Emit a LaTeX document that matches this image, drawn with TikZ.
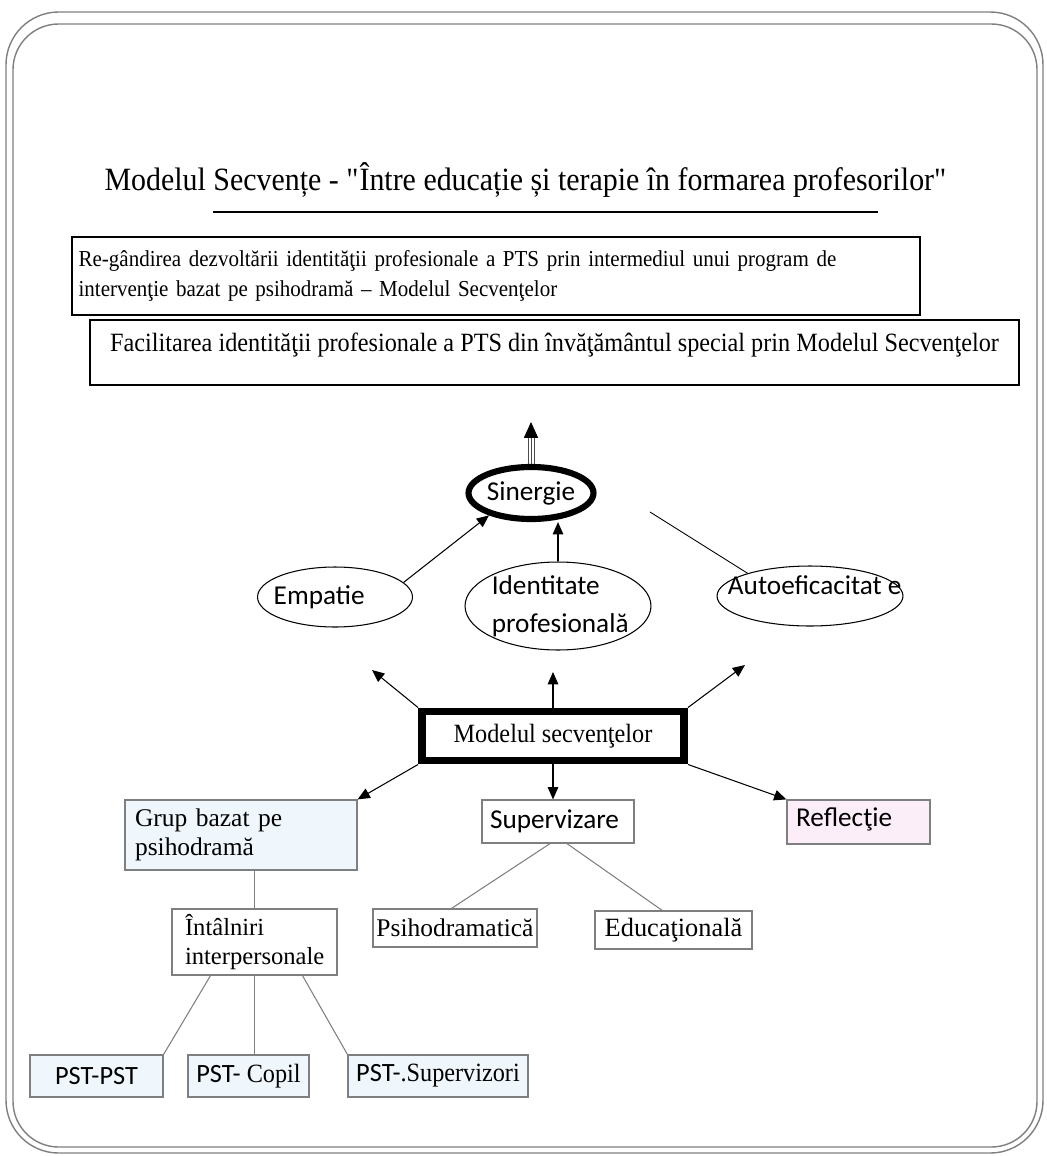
\documentclass[tikz,border=0pt]{standalone}
\usepackage{fontspec}
\setmainfont{Liberation Serif}
\newfontfamily\calibrifont{Carlito}
\newfontfamily\narrowserif{Liberation Serif}[FakeStretch=0.92]
\usetikzlibrary{shapes.geometric,arrows.meta,calc}

\definecolor{boxgray}{HTML}{7F7F7F}
\definecolor{paleblue}{HTML}{F0F7FC}
\definecolor{palepink}{HTML}{FCEEF8}

\tikzset{
  ovalnode/.style={draw, ellipse, inner sep=0pt, line width=0.6pt},
  ovaltext/.style={font=\calibrifont\fontsize{15.5}{21.5}\selectfont, align=left},
  graybox/.style={draw=boxgray, rectangle, inner sep=0pt, line width=0.7pt, font=\fontsize{14.5}{16.5}\selectfont},
  pstbox/.style={graybox, fill=paleblue, minimum height=0.84cm},
  arrowline/.style={-{Triangle[length=7pt,width=6pt]}, line width=0.6pt},
  plainline/.style={line width=0.6pt, draw=boxgray},
}

\begin{document}
\begin{tikzpicture}[x=0.02cm, y=-0.02cm]
\useasboundingbox (0,0) rectangle (1046,1156);

% double frame
\draw[boxgray, line width=0.8pt, rounded corners=30pt] (6,12) rectangle (1043,1153);
\draw[boxgray, line width=0.8pt, rounded corners=26pt] (13,24) rectangle (1037,1147);

% title
\node (title) at (526,180) {\narrowserif\fontsize{18.5}{20}\selectfont Modelul Secvențe - \textquotedbl Între educație și terapie în formarea profesorilor\textquotedbl};
\draw[line width=1.5pt] (213,212) -- (878,212);

% top boxes
\node[draw, line width=0.8pt, minimum width=16.96cm, minimum height=1.56cm, text width=16.7cm,
      align=left, inner sep=0pt, font=\narrowserif\fontsize{13}{17}\selectfont] (rethink) at (496,276)
  {Re-gândirea dezvoltării identităţii profesionale a PTS prin intermediul unui program de\\
   intervenţie bazat pe psihodramă – Modelul Secvenţelor};
\node[draw, line width=0.8pt, minimum width=18.58cm, minimum height=1.3cm, inner sep=0pt,
      label={[anchor=north, yshift=-4pt, font=\narrowserif\fontsize{15}{17}\selectfont]north:Facilitarea identităţii profesionale a PTS din învăţământul special prin Modelul Secvenţelor}]
  (facil) at (554.5,352.5) {};

% ellipses
\node[ovalnode, line width=3.5pt, minimum width=2.24cm, minimum height=1.04cm,
      font=\calibrifont\fontsize{15.5}{17}\selectfont] (sinergie) at (531,493) {Sinergie};
\node[ovalnode, minimum width=3.1cm, minimum height=1.2cm,
      label={[ovaltext, anchor=west, xshift=6pt]west:Empatie}] (empatie) at (335,597) {};
\node[ovalnode, minimum width=3.72cm, minimum height=1.76cm,
      label={[ovaltext, anchor=west, xshift=12pt]west:Identitate\\profesională}] (identitate) at (558,606) {};
\node[ovalnode, minimum width=3.72cm, minimum height=1.2cm,
      label={[ovaltext, anchor=west, xshift=3pt, yshift=6pt]west:Autoeficacitat e}] (autoef) at (810,596) {};

% central box
\node[draw, line width=4.5pt, minimum width=5.24cm, minimum height=0.98cm,
      font=\narrowserif\fontsize{15}{17}\selectfont] (model) at (553,736) {Modelul secvenţelor};

% second level
\node[graybox, fill=paleblue, minimum width=4.64cm, minimum height=1.4cm, text width=4.24cm,
      align=left] (grup) at (241,835) {Grup bazat pe\\psihodramă};
\node[graybox, minimum width=3.04cm, minimum height=0.86cm, text width=2.72cm, align=left,
      font=\calibrifont\fontsize{15.5}{17}\selectfont] (superv) at (558,821.5) {Supervizare};
\node[graybox, fill=palepink, minimum width=2.86cm, minimum height=0.88cm,
      label={[anchor=north west, xshift=2pt, yshift=-1pt, font=\calibrifont\fontsize{15.5}{17}\selectfont]north west:Reflecţie}]
  (reflectie) at (858.5,822) {};

% third level
\node[graybox, minimum width=3.3cm, minimum height=1.32cm, text width=2.78cm, align=left,
      font=\fontsize{14}{16.5}\selectfont] (intal) at (254.5,942) {Întâlniri\\interpersonale};
\node[graybox, minimum width=3.28cm, minimum height=0.76cm] (psiho) at (455,928) {Psihodramatică};
\node[graybox, minimum width=3.14cm, minimum height=0.76cm, font=\fontsize{15}{17}\selectfont] (edu) at (673.5,930) {Educaţională};

% bottom level
\node[pstbox, minimum width=2.66cm, font=\calibrifont\fontsize{15}{17}\selectfont] (pstpst) at (96.5,1076) {PST-PST};
\node[pstbox, minimum width=2.42cm, font=\narrowserif\fontsize{15}{17}\selectfont] (pstcopil) at (248.5,1076) {{\calibrifont PST-} Copil};
\node[pstbox, minimum width=3.6cm, font=\narrowserif\fontsize{15}{17}\selectfont] (pstsup) at (438,1076) {{\calibrifont PST-}.Supervizori};

% arrow to the top box
\coordinate (goal) at (531,422);
\foreach \dx in {-3,0,3}
  \draw[line width=0.5pt, black!70] ($(sinergie.north)+(\dx,0)$) -- ($(goal)+(\dx,14)$);
\draw[-{Triangle[length=9pt,width=8pt]}, line width=0.5pt] ($(goal)+(0,14)$) -- (goal);

% arrows into Sinergie
\draw[arrowline] (empatie.12) -- (sinergie.208);
\draw[arrowline] (identitate.north) -- (identitate.north |- sinergie.south);
\coordinate (sinright) at (650,512);
\draw[line width=0.5pt] (sinright) -- (autoef.160);

% arrows from the central box
\coordinate (tipEmp) at (372,670);
\coordinate (tipIde) at (553,672);
\coordinate (tipAut) at (745,665);
\draw[arrowline] (model.north west) -- (tipEmp);
\draw[arrowline] (model.north) -- (tipIde);
\draw[arrowline] (model.north east) -- (tipAut);
\draw[arrowline] (model.south west) -- (grup.north east);
\draw[arrowline] (model.south) -- (model.south |- superv.north);
\draw[arrowline] (model.south east) -- (reflectie.north west);

% tree lines
\draw[plainline] (intal.north |- grup.south) -- (intal.north);
\draw[plainline] ($(superv.south)+(-8,0)$) -- (psiho.100);
\draw[plainline] ($(superv.south)+(9,0)$) -- (edu.120);
\draw[plainline] ($(intal.south)+(-44,0)$) -- (pstpst.north east);
\draw[plainline] (intal.south) -- (intal.south |- pstcopil.north);
\draw[plainline] ($(intal.south)+(48,0)$) -- (pstsup.north west);
\end{tikzpicture}
\end{document}
